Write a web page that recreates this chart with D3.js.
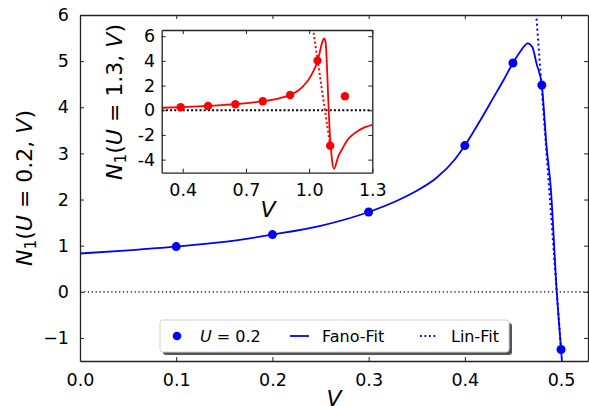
<!DOCTYPE html>
<html>
<head>
<meta charset="utf-8">
<script src="https://cdn.jsdelivr.net/npm/d3@7"></script>
<style>
  html, body { margin: 0; padding: 0; background: #fff; }
  svg { display: block; font-family: "DejaVu Sans", sans-serif; }
</style>
</head>
<body>
<svg id="chart" width="589" height="406"></svg>
<script>
// ---------- data ----------
// main panel: U = 0.2
const mainV = [0.1, 0.2, 0.3, 0.4, 0.45, 0.48, 0.5];
const mainN = [0.98, 1.24, 1.73, 3.17, 4.96, 4.48, -1.25];
const fanoV = [0, 0.05, 0.1, 0.15, 0.2, 0.25, 0.3, 0.33, 0.35, 0.37, 0.39, 0.4, 0.415, 0.43, 0.44, 0.45, 0.458, 0.4654, 0.47, 0.4747, 0.48, 0.485, 0.4893, 0.4955, 0.5, 0.503];
const fanoN = [0.83, 0.90, 0.98, 1.08, 1.24, 1.43, 1.73, 1.98, 2.19, 2.46, 2.88, 3.17, 3.68, 4.22, 4.58, 4.96, 5.22, 5.385, 5.31, 4.93, 4.48, 3.13, 2.26, 0.0, -1.25, -2.1];
const linV = [0.4745, 0.5];
const linN = [5.92, -1.25];
// inset: U = 1.3
const insetV = [0.39, 0.52, 0.65, 0.78, 0.91, 1.04, 1.10, 1.17];
const insetN = [0.24, 0.35, 0.49, 0.73, 1.24, 4.02, -2.87, 1.14];
const insetFitV = [0.30, 0.40, 0.52, 0.65, 0.78, 0.862, 0.9125, 0.972, 1.012, 1.041, 1.0517, 1.0626, 1.072, 1.0787, 1.085, 1.093, 1.0977, 1.1025, 1.1085, 1.118, 1.1385, 1.155, 1.178, 1.242, 1.30];
const insetFitN = [0.20, 0.26, 0.35, 0.49, 0.73, 0.99, 1.24, 1.95, 2.89, 4.05, 4.78, 5.54, 5.81, 5.46, 3.43, 0.0, -1.70, -2.84, -4.0, -4.74, -3.73, -3.2, -2.51, -1.57, -1.19];
const insetLinV = [1.015, 1.10];
const insetLinN = [7.0, -2.87];
// ticks
const mainXTicks = [0.0, 0.1, 0.2, 0.3, 0.4, 0.5];
const mainYTicks = [-1, 0, 1, 2, 3, 4, 5, 6];
const insetXTicks = [0.4, 0.7, 1.0, 1.3];
const insetYTicks = [-4, -2, 0, 2, 4, 6];
const legendLabels = ["Fano-Fit", "Lin-Fit"];

const zip = (a, b) => a.map((v, i) => [v, b[i]]);

const svg = d3.select("#chart");
const blue = "#0000ff", red = "#ff0000", spine = "#222";

// ---------- main axes ----------
const x = d3.scaleLinear().domain([0, 0.528]).range([80, 588]);
const y = d3.scaleLinear().domain([-1.5, 6]).range([361, 15]);

svg.append("clipPath").attr("id", "mainClip").append("rect")
  .attr("x", 80).attr("y", 15).attr("width", 508).attr("height", 346);

const mainG = svg.append("g").attr("clip-path", "url(#mainClip)");
const line = (xs, ys) => d3.line().x(d => xs(d[0])).y(d => ys(d[1]));

// zero line
mainG.append("path").datum([[0, 0], [0.528, 0]])
  .attr("d", line(x, y)).attr("stroke", "#000").attr("stroke-width", 1.3)
  .attr("stroke-dasharray", "1.3,2.6").attr("fill", "none");

// Fano fit
mainG.append("path").datum(zip(fanoV, fanoN))
  .attr("d", line(x, y).curve(d3.curveMonotoneX))
  .attr("stroke", blue).attr("stroke-width", 1.8).attr("fill", "none");
// Lin fit
mainG.append("path").datum(zip(linV, linN))
  .attr("d", line(x, y)).attr("stroke", blue).attr("stroke-width", 2)
  .attr("stroke-dasharray", "2,3").attr("fill", "none");
// points
mainG.selectAll("circle.pt").data(zip(mainV, mainN)).join("circle")
  .attr("class", "pt").attr("cx", d => x(d[0])).attr("cy", d => y(d[1]))
  .attr("r", 4.5).attr("fill", blue);

// axes (ticks pointing inward, mirrored)
function styleAxis(g, fs) {
  g.select(".domain").attr("stroke", spine).attr("stroke-width", 1.3);
  g.selectAll(".tick line").attr("stroke", spine).attr("stroke-width", 1);
  g.selectAll(".tick text").attr("font-size", fs).attr("fill", "#000")
    .attr("font-family", "DejaVu Sans");
}
svg.append("g").attr("transform", "translate(0,361)")
  .call(d3.axisBottom(x).tickValues(mainXTicks).tickFormat(d3.format(".1f")).tickSize(-4).tickPadding(13).tickSizeOuter(0))
  .call(g => styleAxis(g, 17.5));
svg.append("g").attr("transform", "translate(80,0)")
  .call(d3.axisLeft(y).tickValues(mainYTicks).tickFormat(d3.format("d")).tickSize(-4).tickPadding(11).tickSizeOuter(0))
  .call(g => styleAxis(g, 17.5));
svg.append("g").attr("transform", "translate(0,15)")
  .call(d3.axisTop(x).tickValues(mainXTicks).tickFormat("").tickSize(-4).tickSizeOuter(0))
  .call(g => styleAxis(g, 17.5));
svg.append("g").attr("transform", "translate(588,0)")
  .call(d3.axisRight(y).tickValues(mainYTicks).tickFormat("").tickSize(-4).tickSizeOuter(0))
  .call(g => styleAxis(g, 17.5));

// axis labels
function mathLabel(sel, uval) {
  sel.append("tspan").attr("font-style", "italic").text("N");
  sel.append("tspan").attr("font-size", "0.7em").attr("dy", "0.25em").text("1");
  sel.append("tspan").attr("dy", "-0.175em").text("(");
  sel.append("tspan").attr("font-style", "italic").text("U");
  sel.append("tspan").text(" = " + uval + ", ");
  sel.append("tspan").attr("font-style", "italic").text("V");
  sel.append("tspan").text(")");
}
svg.append("text").attr("transform", "translate(32,188) rotate(-90)")
  .attr("text-anchor", "middle").attr("font-size", 22).call(s => mathLabel(s, "0.2"));
svg.append("text").attr("x", 334).attr("y", 406).attr("text-anchor", "middle")
  .attr("font-size", 22).attr("font-style", "italic").text("V");

// ---------- legend ----------
const leg = svg.append("g");
leg.append("rect").attr("x", 163).attr("y", 323).attr("width", 349).attr("height", 32)
  .attr("rx", 3).attr("fill", "#555");
leg.append("rect").attr("x", 160).attr("y", 320).attr("width", 349).attr("height", 32)
  .attr("rx", 3).attr("fill", "#fff").attr("stroke", "#d0d0d0").attr("stroke-width", 1);
leg.append("circle").attr("cx", 177).attr("cy", 336).attr("r", 4.3).attr("fill", blue);
const lt = leg.append("text").attr("x", 200).attr("y", 341.5).attr("font-size", 16);
lt.append("tspan").attr("font-style", "italic").text("U");
lt.append("tspan").text(" = 0.2");
leg.append("line").attr("x1", 290).attr("x2", 309).attr("y1", 336).attr("y2", 336)
  .attr("stroke", blue).attr("stroke-width", 1.8);
leg.append("text").attr("x", 322).attr("y", 341.5).attr("font-size", 16).text(legendLabels[0]);
leg.append("line").attr("x1", 420).attr("x2", 438).attr("y1", 336).attr("y2", 336)
  .attr("stroke", blue).attr("stroke-width", 1.8).attr("stroke-dasharray", "1.8,2.7");
leg.append("text").attr("x", 451).attr("y", 341.5).attr("font-size", 16).text(legendLabels[1]);

// ---------- inset ----------
const ix = d3.scaleLinear().domain([0.3, 1.3]).range([161.7, 372.3]);
const iy = d3.scaleLinear().domain([-5.06, 6.5]).range([172.7, 30]);

svg.append("rect").attr("x", 161.7).attr("y", 30).attr("width", 210.6).attr("height", 142.7)
  .attr("fill", "#fff");
svg.append("clipPath").attr("id", "insetClip").append("rect")
  .attr("x", 161.7).attr("y", 30).attr("width", 210.6).attr("height", 142.7);
const inG = svg.append("g").attr("clip-path", "url(#insetClip)");

inG.append("path").datum([[0.3, 0], [1.3, 0]])
  .attr("d", line(ix, iy)).attr("stroke", "#000").attr("stroke-width", 2)
  .attr("stroke-dasharray", "2,2.2").attr("fill", "none");
inG.append("path").datum(zip(insetFitV, insetFitN))
  .attr("d", line(ix, iy).curve(d3.curveMonotoneX))
  .attr("stroke", red).attr("stroke-width", 1.8).attr("fill", "none");
inG.append("path").datum(zip(insetLinV, insetLinN))
  .attr("d", line(ix, iy)).attr("stroke", red).attr("stroke-width", 2)
  .attr("stroke-dasharray", "2,2.5").attr("fill", "none");
inG.selectAll("circle.ipt").data(zip(insetV, insetN)).join("circle")
  .attr("class", "ipt").attr("cx", d => ix(d[0])).attr("cy", d => iy(d[1]))
  .attr("r", 4.2).attr("fill", red);

const hyph = d => (d < 0 ? "-" : "") + Math.abs(d);
svg.append("g").attr("transform", "translate(0,172.7)")
  .call(d3.axisBottom(ix).tickValues(insetXTicks).tickFormat(d3.format(".1f")).tickSize(-4).tickPadding(11).tickSizeOuter(0))
  .call(g => styleAxis(g, 17.5));
svg.append("g").attr("transform", "translate(161.7,0)")
  .call(d3.axisLeft(iy).tickValues(insetYTicks).tickFormat(hyph).tickSize(-4).tickPadding(6.5).tickSizeOuter(0))
  .call(g => styleAxis(g, 17.5));
svg.append("g").attr("transform", "translate(0,30)")
  .call(d3.axisTop(ix).tickValues(insetXTicks).tickFormat("").tickSize(-4).tickSizeOuter(0))
  .call(g => styleAxis(g, 17.5));
svg.append("g").attr("transform", "translate(372.3,0)")
  .call(d3.axisRight(iy).tickValues(insetYTicks).tickFormat("").tickSize(-4).tickSizeOuter(0))
  .call(g => styleAxis(g, 17.5));

svg.append("text").attr("transform", "translate(122,102) rotate(-90)")
  .attr("text-anchor", "middle").attr("font-size", 22).call(s => mathLabel(s, "1.3"));
svg.append("text").attr("x", 268).attr("y", 217).attr("text-anchor", "middle")
  .attr("font-size", 22).attr("font-style", "italic").text("V");
</script>
</body>
</html>
